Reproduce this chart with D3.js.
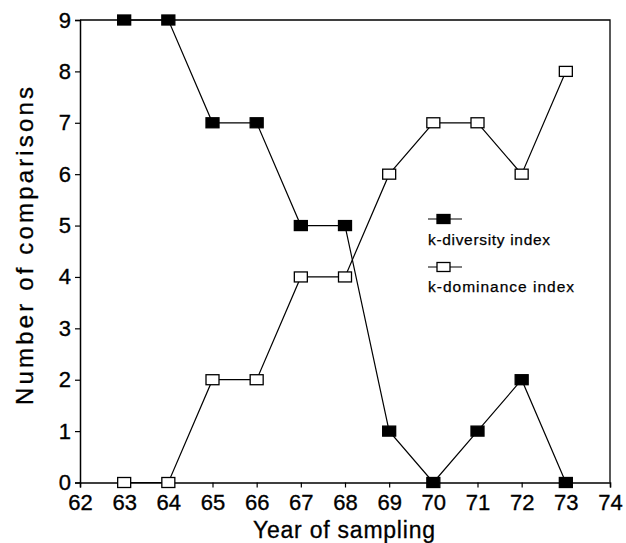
<!DOCTYPE html>
<html><head><meta charset="utf-8">
<script src="https://cdn.jsdelivr.net/npm/d3@7"></script>
<style>body{margin:0;background:#fff}svg{font-family:"Liberation Sans",Arial,sans-serif}</style>
</head><body><svg id="c" width="626" height="543"></svg>
<script>
const years = [63,64,65,66,67,68,69,70,71,72,73];
const diversity = [9,9,7,7,5,5,1,0,1,2,0];
const dominance = [0,0,2,2,4,4,6,7,7,6,8];
const xTicks = [62,63,64,65,66,67,68,69,70,71,72,73,74];
const yTicks = [0,1,2,3,4,5,6,7,8,9];
const seriesNames = ["k-diversity index","k-dominance index"];

const svg = d3.select("#c");
const L=80,R=610,T=20,B=482.5;
const x = d3.scaleLinear().domain([62,74]).range([L,R]);
const y = d3.scaleLinear().domain([0,9]).range([B,T]);

// frame
svg.append("path").attr("d",`M${L},${T}H${R}V${B}`).attr("fill","none").attr("stroke","#000").attr("stroke-width",1.3);

const xa = svg.append("g").attr("transform",`translate(0,${B})`)
  .call(d3.axisBottom(x).tickValues(xTicks).tickFormat(d3.format("d")).tickSizeOuter(0).tickSize(5).tickPadding(7));
const ya = svg.append("g").attr("transform",`translate(${L},0)`)
  .call(d3.axisLeft(y).tickValues(yTicks).tickFormat(d3.format("d")).tickSizeOuter(0).tickSize(5).tickPadding(4));
[xa,ya].forEach(a=>{a.select(".domain").attr("stroke-width",1.5);a.selectAll(".tick line").attr("stroke-width",1.2);
  a.selectAll("text").attr("font-size",22).attr("font-family","Liberation Sans, Arial, sans-serif").attr("fill","#000")
   .attr("stroke","#000").attr("stroke-width",0.35);});

svg.append("text").attr("x",344).attr("y",538).attr("text-anchor","middle").attr("font-size",23)
  .attr("textLength",182).attr("lengthAdjust","spacing").attr("stroke","#000").attr("stroke-width",0.3).text("Year of sampling");
svg.append("text").attr("transform",`translate(33,246) rotate(-90)`).attr("text-anchor","middle").attr("font-size",24)
  .attr("textLength",318).attr("lengthAdjust","spacing").attr("stroke","#000").attr("stroke-width",0.3).text("Number of comparisons");

const line = d3.line().x((d,i)=>x(years[i])).y(d=>y(d));
const mw=13, mh=10;
function series(vals, filled){
  svg.append("path").attr("d",line(vals)).attr("fill","none").attr("stroke","#000").attr("stroke-width",1.2);
  svg.selectAll(null).data(vals).enter().append("rect")
    .attr("x",(d,i)=>x(years[i])-mw/2).attr("y",d=>y(d)-mh/2).attr("width",mw).attr("height",mh)
    .attr("fill",filled?"#000":"#fff").attr("stroke","#000").attr("stroke-width",1.3);
}
series(dominance,false);
series(diversity,true);

// legend
const lg = svg.append("g");
const legW=[122,146];
[[219,true,245],[267,false,292]].forEach(([ly,f,ty],i)=>{
  lg.append("line").attr("x1",428).attr("x2",462).attr("y1",ly).attr("y2",ly).attr("stroke","#000").attr("stroke-width",1.2);
  lg.append("rect").attr("x",443.5-mw/2).attr("y",ly-4.5).attr("width",mw).attr("height",9).attr("fill",f?"#000":"#fff").attr("stroke","#000").attr("stroke-width",1.3);
  lg.append("text").attr("x",428).attr("y",ty).attr("font-size",15.5).attr("textLength",legW[i]).attr("lengthAdjust","spacing")
    .attr("stroke","#000").attr("stroke-width",0.25).text(seriesNames[i]);
});
</script></body></html>
